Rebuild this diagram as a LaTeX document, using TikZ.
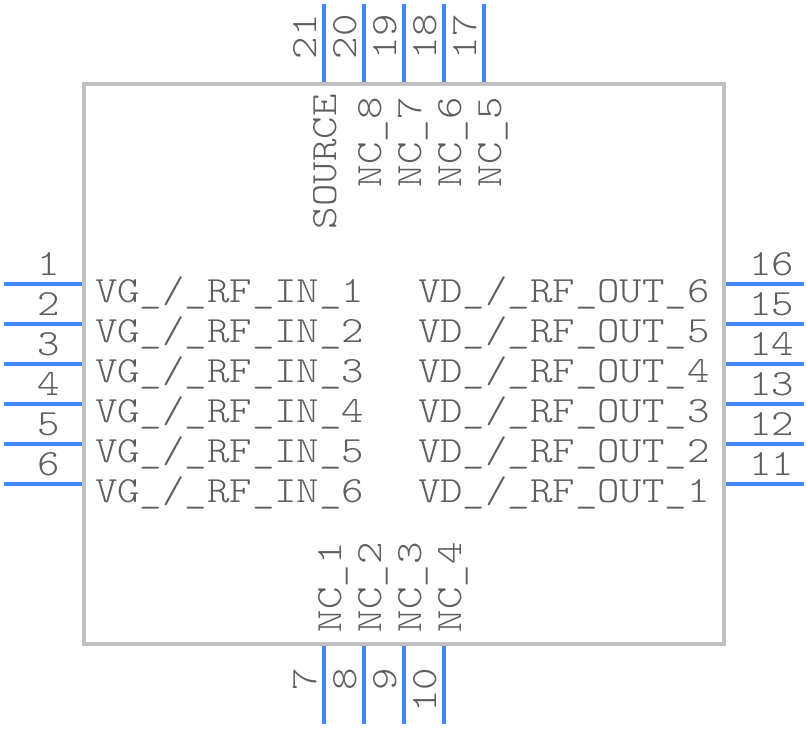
\documentclass[tikz,border=0pt]{standalone}
\tikzset{
    pinline/.style={line width=4pt, color=pinblue},
    pintext/.style={inner sep=0pt, outer sep=0pt, color=textgray, xscale=1.155,
        font=\fontsize{37}{37}\fontseries{l}\ttfamily\selectfont},
    pinup/.style={rotate=90, pintext},
}
\definecolor{pinblue}{HTML}{4088F8}
\definecolor{bodygray}{HTML}{C0C0C0}
\definecolor{textgray}{HTML}{5E5E5E}

\begin{document}
\begin{tikzpicture}[x=1pt, y=-1pt]
    \useasboundingbox (0, 0) rectangle (808, 728);

    \foreach \n/\x in {21/324, 20/364, 19/404, 18/444, 17/484}{
        \coordinate (top\n) at (\x, 4);
        \coordinate (topend\n) at (\x, 84);
        \draw [pinline] (top\n) -- (topend\n);
        \node [pinup, anchor=base west] (num\n) at (\x-8, 59) {\n};
    }
    \foreach \n/\x in {7/324, 8/364, 9/404, 10/444}{
        \coordinate (bot\n) at (\x, 724);
        \coordinate (botend\n) at (\x, 644);
        \draw [pinline] (bot\n) -- (botend\n);
        \node [pinup, anchor=base east] (num\n) at (\x-8, 668) {\n};
    }
    \foreach \n/\y in {1/284, 2/324, 3/364, 4/404, 5/444, 6/484}{
        \coordinate (left\n) at (4, \y);
        \coordinate (leftend\n) at (84, \y);
        \draw [pinline] (left\n) -- (leftend\n);
        \node [pintext, anchor=base] (num\n) at (49, \y-9) {\n};
        \node [pintext, anchor=base west] (vg\n) at (95, \y+18) {VG\_/\_RF\_IN\_\n};
    }
    \foreach \n/\m/\y in {16/6/284, 15/5/324, 14/4/364, 13/3/404, 12/2/444, 11/1/484}{
        \coordinate (right\n) at (804, \y);
        \coordinate (rightend\n) at (724, \y);
        \draw [pinline] (right\n) -- (rightend\n);
        \node [pintext, anchor=base west] (num\n) at (749, \y-9) {\n};
        \node [pintext, anchor=base west] (vd\m) at (418, \y+18) {VD\_/\_RF\_OUT\_\m};
    }

    \draw [line width=4pt, color=bodygray] (84, 84) rectangle (724, 644);

    \node [pinup, anchor=base west] (source) at (336, 229) {SOURCE};
    \foreach \n/\x in {8/381, 7/421, 6/461, 5/501}{
        \node [pinup, anchor=base west] (nc\n) at (\x, 187) {NC\_\n};
    }
    \foreach \n/\x in {1/341, 2/381, 3/421, 4/461}{
        \node [pinup, anchor=base west] (nc\n) at (\x, 632) {NC\_\n};
    }
\end{tikzpicture}
\end{document}
